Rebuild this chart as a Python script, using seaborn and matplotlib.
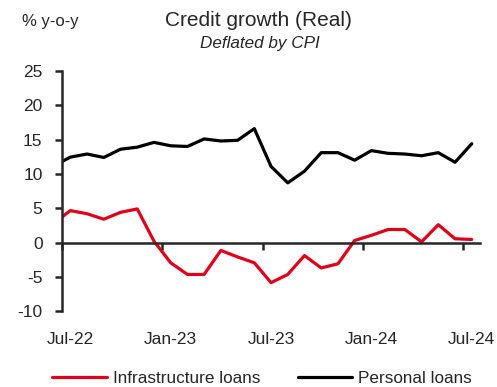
import numpy as np
import pandas as pd
import matplotlib
matplotlib.use('Agg')
import matplotlib.pyplot as plt
import seaborn as sns

# monthly data, Jun-22 .. Jul-24 (Jun-22 only shows as the clipped line start)
months = pd.date_range('2022-06-01', '2024-07-01', freq='MS')
infra = [2.8, 4.65, 4.2, 3.4, 4.4, 4.9, 0.2, -2.95, -4.65, -4.65, -1.15, -2.1, -2.95,
         -5.85, -4.65, -1.9, -3.7, -3.1, 0.3, 1.05, 1.9, 1.9, 0.1, 2.6, 0.55, 0.45]
personal = [11.15, 12.45, 12.9, 12.4, 13.6, 13.9, 14.6, 14.1, 14.0, 15.1, 14.8, 14.9, 16.6,
            11.1, 8.7, 10.4, 13.1, 13.1, 12.0, 13.4, 13.0, 12.9, 12.65, 13.1, 11.7, 14.4]
x_labels = ['Jul-22', 'Jan-23', 'Jul-23', 'Jan-24', 'Jul-24']
y_ticks = [-10, -5, 0, 5, 10, 15, 20, 25]

idx = np.arange(len(months)) - 1  # Jul-22 = 0
df = pd.DataFrame({
    'idx': np.concatenate([idx, idx]),
    'value': infra + personal,
    'series': ['Infrastructure loans'] * len(infra) + ['Personal loans'] * len(personal),
})

sns.set_style('white')
plt.rcParams['font.family'] = ['Liberation Sans', 'DejaVu Sans']
plt.rcParams['axes.unicode_minus'] = False

fig = plt.figure(figsize=(4.97, 3.87), dpi=100)
ax = fig.add_axes([0.1247, 0.196, 0.8413, 0.6205])

sns.lineplot(data=df, x='idx', y='value', hue='series',
             palette={'Infrastructure loans': '#E1001A', 'Personal loans': '#000000'},
             linewidth=2.3, ax=ax, legend=False)

ax.set_xlim(-0.5, 24.5)
ax.set_ylim(-10, 25)
ax.set_yticks(y_ticks)
ax.set_xlabel('')
ax.set_ylabel('')

for s in ['top', 'right']:
    ax.spines[s].set_visible(False)
ax.spines['left'].set_linewidth(1.8)
ax.spines['bottom'].set_position(('data', 0))
ax.spines['bottom'].set_linewidth(1.8)
ax.set_xticks([-0.5, 5.5, 11.5, 17.5, 23.5])
ax.tick_params(axis='x', direction='out', length=5, width=1.8, labelbottom=False, bottom=True)
ax.tick_params(axis='y', direction='out', length=5, width=1.8, labelsize=12.5, pad=9, left=True)

sec = ax.secondary_xaxis('bottom')
sec.spines['bottom'].set_visible(False)
sec.set_xticks([0, 6, 12, 18, 24])
sec.set_xticklabels(x_labels)
sec.tick_params(length=0, labelsize=12.5, pad=15)

fig.text(0.52, 0.948, 'Credit growth (Real)', ha='center', va='center', fontsize=15)
fig.text(0.522, 0.888, 'Deflated by CPI', ha='center', va='center', fontsize=12.3, style='italic')
fig.text(0.044, 0.945, '% y-o-y', ha='left', va='center', fontsize=12)

handles = [plt.Line2D([], [], color='#E1001A', lw=2.3), plt.Line2D([], [], color='#000000', lw=2.3)]
fig.legend(handles, ['Infrastructure loans', 'Personal loans'], loc='center', ncol=2,
           bbox_to_anchor=(0.527, 0.023), frameon=False, fontsize=12.3,
           handlelength=3.2, handletextpad=0.35, columnspacing=2.2)

fig.savefig('out.png', dpi=100)
